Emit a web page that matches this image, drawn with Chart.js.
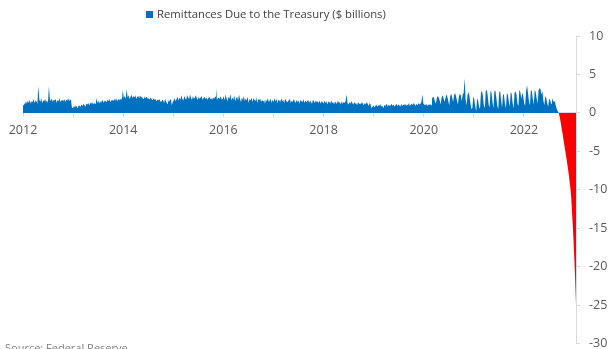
<!DOCTYPE html>
<html>
<head>
<meta charset="utf-8">
<title>Remittances Due to the Treasury</title>
<script src="https://cdn.jsdelivr.net/npm/chart.js@4.4.1/dist/chart.umd.min.js"></script>
<style>
  html, body { margin: 0; padding: 0; background: #fff; overflow: hidden; }
  .wrap { position: relative; width: 613px; height: 349px; overflow: hidden; }
  #chart { position: absolute; left: 0; top: 0; }
  .legend {
    position: absolute; top: 6px; left: 146px;
    font: 11.3px "Open Sans", sans-serif; color: #404040; white-space: nowrap;
  }
  .legend i { display: inline-block; width: 7px; height: 7px; background: #0070C0; margin-right: 4px; vertical-align: 0; }
  .source {
    position: absolute; left: 5px; top: 340px;
    font: 11px "Open Sans", sans-serif; color: #808080; white-space: nowrap;
  }
</style>
</head>
<body>
<div class="wrap">
  <canvas id="chart" width="613" height="360"></canvas>
  <div class="legend"><i></i>Remittances Due to the Treasury ($ billions)</div>
  <div class="source">Source: Federal Reserve</div>
</div>
<script>
// Weekly remittances due to the Treasury, $ billions, one array per year
const w2012 = [1.0,1.3,1.1,1.5,1.2,1.6,1.3,1.7,1.2,1.5, 1.4,1.8,1.3,1.6,1.5,1.2,3.5,1.7,1.4,1.9,
               1.3,1.6,1.5,1.8,1.4,1.6,1.3,3.5,1.8,1.5, 1.9,1.4,1.7,1.6,1.8,1.3,1.7,1.5,1.9,1.4,
               1.6,1.7,1.5,1.8,1.4,1.7,1.6,1.9,1.5,1.8, 1.6,0.7];
const w2013 = [0.6,0.9,0.7,1.0,0.8,0.6,1.0,0.9,0.8,1.1, 0.9,1.2,1.0,0.8,1.2,1.1,1.3,1.0,1.3,1.2,
               1.4,1.1,1.3,1.2,2.0,1.5,1.3,1.6,1.2,1.5, 1.4,1.7,1.3,1.6,1.5,1.4,1.7,1.5,1.8,1.4,
               1.6,1.7,1.5,1.8,1.6,1.9,1.5,1.7,1.8,1.6, 1.9,1.7];
const w2014 = [3.0,1.9,2.2,1.8,3.1,2.0,2.3,1.8,2.1,2.4, 1.9,2.2,2.0,2.3,1.8,2.1,2.2,1.9,2.3,2.0,
               2.1,1.8,2.2,1.9,2.0,2.1,1.8,1.9,1.7,2.0, 1.8,1.6,1.9,1.7,1.8,1.5,1.7,1.6,1.8,1.5,
               1.4,1.7,1.6,1.3,1.8,1.5,1.2,1.7,1.4,1.6, 1.8,1.0];
const w2015 = [1.4,1.6,1.9,1.5,1.8,2.1,1.6,2.0,1.7,2.3, 1.8,1.6,2.2,1.9,1.7,2.3,2.0,1.8,2.4,1.9,
               1.7,2.2,1.8,2.0,2.3,1.9,1.7,2.1,1.8,2.0, 2.2,1.7,1.9,2.1,1.8,2.0,1.7,1.9,2.1,1.8,
               1.9,1.7,2.0,1.8,2.1,3.3,1.7,1.9,2.0,1.8, 2.2,1.7];
const w2016 = [1.8,2.2,1.6,2.4,1.9,1.5,2.1,1.8,2.5,1.6, 2.0,1.7,2.3,1.5,1.9,2.1,1.6,2.4,1.8,1.4,
               2.0,1.7,2.2,1.5,1.9,1.6,2.1,1.3,1.8,1.6, 2.0,1.4,1.9,1.7,1.5,2.0,1.3,1.8,1.6,1.9,
               1.4,1.7,1.5,1.8,1.2,1.7,1.5,1.9,1.4,1.6, 1.8,1.3];
const w2017 = [1.7,1.4,1.9,1.5,1.8,1.3,1.7,1.6,1.4,1.9, 1.5,1.7,1.3,1.8,1.6,1.4,1.7,1.5,1.9,1.3,
               1.6,1.4,1.8,1.5,1.3,1.7,1.4,1.6,1.2,1.7, 1.5,1.4,1.8,1.3,1.6,1.4,1.5,1.7,1.3,1.6,
               1.4,1.2,1.7,1.5,1.3,1.6,1.4,1.5,1.3,1.6, 1.2,1.5];
const w2018 = [1.4,1.2,1.6,1.3,1.5,1.1,1.4,1.5,1.2,1.6, 1.3,1.4,1.1,1.5,1.3,1.2,1.6,1.3,1.4,1.1,
               1.5,1.2,1.4,1.3,1.5,2.4,1.3,1.1,1.4,1.2, 1.5,1.3,1.1,1.4,1.2,1.3,1.0,1.4,1.2,1.3,
               1.1,1.4,1.2,1.0,1.3,1.1,1.4,1.2,0.9,1.3, 1.1,0.6];
const w2019 = [0.8,1.0,0.7,0.9,1.1,0.8,1.0,0.9,1.2,0.8, 1.0,0.7,1.1,0.9,1.0,1.2,0.8,1.1,0.9,1.0,
               1.2,0.9,1.1,0.8,1.0,1.2,0.9,1.1,1.0,0.8, 1.2,0.9,1.1,1.0,1.2,0.9,1.1,1.0,1.3,0.9,
               1.1,1.2,1.0,1.3,1.1,0.9,1.2,1.0,1.3,1.1, 1.2,1.4];
const w2020 = [2.4,1.2,1.1,1.0,1.2,0.9,1.1,1.0,1.2,1.0, 1.8,2.1,2.0,1.5,1.2, 1.9,2.2,2.0,1.6,1.1,
               2.0,2.3,1.9,1.4, 1.9,2.4,2.1,1.5,1.0, 2.2,2.5,2.0,1.4, 2.3,2.6,2.2,1.6,1.1,
               2.1,2.5,2.3,1.5, 2.4,2.6,4.5,1.8,1.0, 2.3,2.7,2.2,1.3,0.5];
const w2021 = [0.6,2.1,1.8,0.9, 0.2,1.9,1.6,0.8,0.5, 2.6,2.9,2.2,1.0, 0.6,2.8,3.0,2.3,1.1,
               0.7,2.9,2.6,1.4, 0.6,2.8,2.9,2.0,0.9, 0.5,2.7,2.8,1.6, 0.7,2.5,2.3,1.2,0.6,
               2.6,2.4,1.5,0.8, 2.7,2.5,1.3,0.6, 2.6,2.8,2.4,1.2, 0.9,3.0,2.7,1.8];
const w2022 = [2.6,2.2,1.3,0.9,2.8, 3.6, 2.6,1.5,1.0,3.0, 2.8,1.8,1.1,3.0, 2.7,1.9,1.2,2.9,
               3.2,3.1,2.4, 2.8,1.6,1.0,2.2, 1.9,1.3,0.8,1.8, 1.7,1.2,1.9,1.6, 1.4,1.5,0.9,0.5,0.2,0];
// Weeks after remittances turned negative (deferred asset build-up)
const deferred = [-0.5,-1.2,-2.0,-2.7,-3.5,-4.3,-5.1,-5.9,-6.7,-7.6,-8.6,-9.6,-11.0,-13.2,-15.6,-18.2,-21.3,-25.0];

const yearLabels = ['2012', '2014', '2016', '2018', '2020', '2022'];
const seriesLabel = 'Remittances Due to the Treasury ($ billions)';

const firstYear = 2012;
const weekInYears = 7 / 365.25;

const weekly = [].concat(w2012, w2013, w2014, w2015, w2016, w2017, w2018, w2019,
                         w2020, w2021, w2022, deferred);
const points = weekly.map((v, i) => ({ x: firstYear + i * weekInYears, y: v }));
const lastX = points[points.length - 1].x;

Chart.defaults.font.family = '"Open Sans", sans-serif';
Chart.defaults.color = '#595959';

new Chart(document.getElementById('chart'), {
  type: 'line',
  data: {
    datasets: [{
      label: seriesLabel,
      data: points,
      borderWidth: 0,
      borderColor: 'rgba(0,0,0,0)',
      pointRadius: 0,
      tension: 0,
      fill: { target: 'origin', above: '#0070C0', below: '#FF0000' }
    }]
  },
  options: {
    responsive: false,
    animation: false,
    layout: { padding: { left: 23, right: 0, top: 36, bottom: 8 } },
    plugins: {
      legend: { display: false },
      tooltip: { enabled: false }
    },
    scales: {
      x: {
        type: 'linear',
        position: { y: 0 },
        min: firstYear,
        max: lastX,
        border: { color: '#d9d9d9' },
        grid: { drawOnChartArea: false, tickLength: 4, color: '#d9d9d9' },
        ticks: {
          stepSize: 1,
          autoSkip: false,
          maxRotation: 0,
          padding: 6,
          font: { size: 12.5 },
          callback: (v) => yearLabels.includes(String(v)) ? String(v) : ''
        }
      },
      y: {
        position: 'right',
        min: -30,
        max: 10,
        border: { color: '#d9d9d9' },
        grid: { drawOnChartArea: false, tickLength: 4, color: '#d9d9d9' },
        ticks: { stepSize: 5, padding: 9, font: { size: 12.5 } },
        afterFit: (scale) => { scale.width = 37; }
      }
    }
  }
});
</script>
</body>
</html>
